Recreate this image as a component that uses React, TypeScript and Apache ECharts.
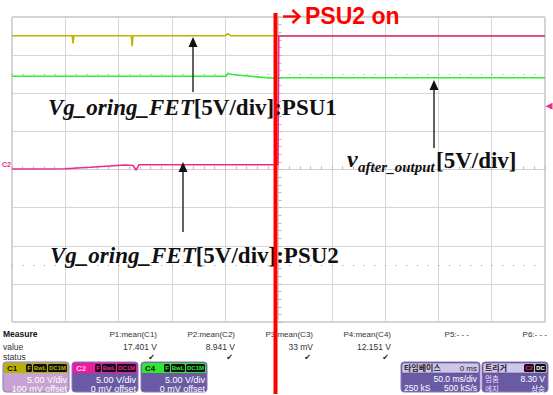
import React, { useEffect, useRef } from "react";
import * as echarts from "echarts";

const W = 553;
const H = 395;

// time axis (ms): 50 ms/div, 10 divisions
const timeMin = -250;
const timeMax = 250;
const timeStep = 50;
// vertical axis (V): 5 V/div, 8 divisions
const voltMin = -20;
const voltMax = 20;
const voltStep = 5;

// C1 (yellow) Vg_oring_FET PSU1
const c1Time = [-250, -193.5, -192.7, -192, -138, -137.3, -136.6, -50, -47.5, -45, 250];
const c1Volt = [17.55, 17.55, 16.55, 17.55, 17.55, 16.17, 17.55, 17.55, 17.8, 17.55, 17.55];

// C4 (green) v_after_output
const c4Time = [-250, -49, -47.5, -44, -5, 0, 250];
const c4Volt = [12.22, 12.22, 12.62, 12.45, 11.96, 12.04, 12.04];

// C2 (pink) Vg_oring_FET PSU2
const c2Time = [-250, -200, -176.7, -143.9, -136.4, -133.6, -130.8, -0.5, 0.3, 250];
const c2Volt = [0.07, 0.1, 0.29, 0.59, 0.52, -0.07, 0.63, 0.63, 17.51, 17.51];

const triggerLevel = 8.3;
const psu2OnTime = -2.8;
const dottedLevels = [12.5, -12.5];

const measureHeaders = ["P1:mean(C1)", "P2:mean(C2)", "P3:mean(C3)", "P4:mean(C4)", "P5:- - -", "P6:- - -"];
const measureValues = ["17.401 V", "8.941 V", "33 mV", "12.151 V", "", ""];
const measureStatus = [true, true, true, true, false, false];

const channelNames = ["C1", "C2", "C4"];
const channelHeaderColors = ["#b9b200", "#f0199b", "#2ee82e"];
const channelNameColors = ["#111", "#ffd0ea", "#111"];
const channelBodyColors = ["#c9a2d4", "#6a5aa4", "#6a5aa4"];
const channelScales = ["5.00 V/div", "5.00 V/div", "5.00 V/div"];
const channelOffsets = ["100 mV offset", "0 mV offset", "0 mV offset"];

const C1_COLOR = "#bcb400";
const C2_COLOR = "#ee2a8a";
const C4_COLOR = "#30ee30";

const SANS = '"Liberation Sans", Arial, "Noto Sans CJK KR", sans-serif';
const KR = '"Noto Sans CJK KR", "Liberation Sans", sans-serif';
const SERIF = '"Liberation Serif", "Times New Roman", serif';

function zip(a: number[], b: number[]) {
  return a.map((t, i) => [t, b[i]]);
}

function txt(x: number, y: number, text: string, font: string, fill: string, align = "left", z = 120): any {
  return {
    type: "text",
    x,
    y,
    z,
    silent: true,
    style: { text, font, fill, textAlign: align, textVerticalAlign: "middle" },
  };
}

function arrow(x: number, yTail: number, yTip: number): any[] {
  return [
    {
      type: "line",
      z: 110,
      silent: true,
      shape: { x1: x, y1: yTail, x2: x, y2: yTip + 8 },
      style: { stroke: "#3a3a3a", lineWidth: 1.6 },
    },
    {
      type: "polygon",
      z: 110,
      silent: true,
      shape: { points: [[x, yTip], [x - 4.5, yTip + 10], [x + 4.5, yTip + 10]] },
      style: { fill: "#111" },
    },
  ];
}

function badge(x: number, y: number, w: number, label: string, color: string): any[] {
  return [
    { type: "rect", z: 121, silent: true, shape: { x, y, width: w, height: 8, r: 1.5 }, style: { fill: "#111" } },
    txt(x + w / 2, y + 4.2, label, `bold 6px ${SANS}`, color, "center", 122),
  ];
}

function channelBox(i: number, x: number): any[] {
  const y = 362;
  const hc = channelHeaderColors[i];
  return [
    {
      type: "rect", z: 119, silent: true,
      shape: { x, y, width: 66, height: 30, r: 3 },
      style: { fill: channelBodyColors[i], stroke: "#8a78b8", lineWidth: 1 },
    },
    {
      type: "rect", z: 120, silent: true,
      shape: { x: x + 1, y: y + 1, width: 64, height: 10, r: [2, 2, 0, 0] },
      style: { fill: hc },
    },
    txt(x + 4, y + 6, channelNames[i], `bold 8px ${SANS}`, channelNameColors[i], "left", 122),
    ...badge(x + 23, y + 2, 6, "F", hc),
    ...badge(x + 30, y + 2, 14, "BwL", hc),
    ...badge(x + 45, y + 2, 19, "DC1M", hc),
    txt(x + 64, y + 17.5, channelScales[i], `9px ${SANS}`, "#ffffff", "right", 122),
    txt(x + 64, y + 26.5, channelOffsets[i], `9px ${SANS}`, "#ffffff", "right", 122),
  ];
}

export default function App() {
  const ref = useRef<HTMLDivElement>(null);

  useEffect(() => {
    const chart = echarts.init(ref.current!, undefined, { renderer: "svg", width: W, height: H });

    const axisGray = "#b8b8b8";
    chart.setOption({
      animation: false,
      backgroundColor: "#ffffff",
      grid: {
        left: 12, right: 8, top: 17, bottom: 73,
        show: true, borderColor: "#a4a4a4", borderWidth: 1, backgroundColor: "#ffffff",
      },
      xAxis: {
        type: "value",
        min: timeMin, max: timeMax, interval: timeStep,
        axisLine: { show: true, onZero: true, lineStyle: { color: "#d0d0d0", width: 1 } },
        axisTick: { show: true, inside: true, length: 3, lineStyle: { color: axisGray } },
        minorTick: { show: true, splitNumber: 5, length: 3, lineStyle: { color: axisGray } },
        axisLabel: { show: false },
        splitLine: { show: true, lineStyle: { color: "#d6d6d6", width: 1 } },
      },
      yAxis: {
        type: "value",
        min: voltMin, max: voltMax, interval: voltStep,
        axisLine: { show: true, onZero: true, lineStyle: { color: "#d0d0d0", width: 1 } },
        axisTick: { show: true, inside: true, length: 3, lineStyle: { color: axisGray } },
        minorTick: { show: true, splitNumber: 5, length: 3, lineStyle: { color: axisGray } },
        axisLabel: { show: false },
        splitLine: { show: true, lineStyle: { color: "#d6d6d6", width: 1 } },
      },
      series: [
        {
          name: "C1", type: "line", showSymbol: false, symbol: "none",
          data: zip(c1Time, c1Volt),
          lineStyle: { color: C1_COLOR, width: 1.6 }, itemStyle: { color: C1_COLOR },
          z: 3,
          markLine: {
            silent: true, symbol: ["none", "none"], label: { show: false },
            lineStyle: { type: [1, 9.66], color: "#9a9a9a", width: 1 },
            data: dottedLevels.map((v) => ({ yAxis: v })),
          },
        },
        {
          name: "C4", type: "line", showSymbol: false, symbol: "none",
          data: zip(c4Time, c4Volt),
          lineStyle: { color: C4_COLOR, width: 1.6 }, itemStyle: { color: C4_COLOR },
          z: 4,
        },
        {
          name: "C2", type: "line", showSymbol: false, symbol: "none",
          data: zip(c2Time, c2Volt),
          lineStyle: { color: C2_COLOR, width: 1.6 }, itemStyle: { color: C2_COLOR },
          z: 5,
          markPoint: {
            silent: true,
            symbol: "triangle", symbolSize: 7, symbolRotate: 90, symbolOffset: [4, 0],
            itemStyle: { color: C2_COLOR }, label: { show: false },
            data: [{ coord: [timeMax, triggerLevel] }],
          },
        },
      ],
    });

    const redX = chart.convertToPixel({ xAxisIndex: 0 }, psu2OnTime) as number;

    const serifRich = {
      i: { fontStyle: "italic", fontWeight: "bold", fontSize: 23, fontFamily: SERIF, fill: "#111" },
      n: { fontStyle: "normal", fontWeight: "bold", fontSize: 23, fontFamily: SERIF, fill: "#111" },
    };

    const colRight = (k: number) => 157 + k * 78;
    const measure: any[] = [
      txt(3, 334, "Measure", `bold 8.5px ${SANS}`, "#111"),
      txt(3, 346.5, "value", `8.5px ${SANS}`, "#333"),
      txt(3, 356.5, "status", `8.5px ${SANS}`, "#333"),
    ];
    measureHeaders.forEach((h, k) => {
      measure.push(txt(colRight(k), 334, h, `8px ${SANS}`, "#333", "right"));
      if (measureValues[k]) measure.push(txt(colRight(k), 346.5, measureValues[k], `8.5px ${SANS}`, "#333", "right"));
      if (measureStatus[k]) measure.push(txt(colRight(k) - 2, 357, "✔", `8px "DejaVu Sans", sans-serif`, "#222", "right"));
    });

    const boxes: any[] = [
      ...channelBox(0, 3),
      ...channelBox(1, 72),
      ...channelBox(2, 141),
      // timebase
      {
        type: "rect", z: 119, silent: true,
        shape: { x: 401, y: 362, width: 79, height: 30, r: 3 },
        style: { fill: "#6a5aa4", stroke: "#8a78b8", lineWidth: 1 },
      },
      {
        type: "rect", z: 120, silent: true,
        shape: { x: 402, y: 363, width: 77, height: 10, r: [2, 2, 0, 0] },
        style: { fill: "#cfc6ea", stroke: "#5a4a90", lineWidth: 0.6 },
      },
      txt(404, 367.8, "타임베이스", `bold 8px ${KR}`, "#222", "left", 122),
      txt(477, 368, "0 ms", `8px ${SANS}`, "#222", "right", 122),
      txt(477, 378.5, "50.0 ms/div", `8.5px ${SANS}`, "#ffffff", "right", 122),
      txt(404, 387.5, "250 kS", `8.5px ${SANS}`, "#ffffff", "left", 122),
      txt(477, 387.5, "500 kS/s", `8.5px ${SANS}`, "#ffffff", "right", 122),
      // trigger
      {
        type: "rect", z: 119, silent: true,
        shape: { x: 482, y: 362, width: 66, height: 30, r: 3 },
        style: { fill: "#6a5aa4", stroke: "#8a78b8", lineWidth: 1 },
      },
      {
        type: "rect", z: 120, silent: true,
        shape: { x: 483, y: 363, width: 64, height: 10, r: [2, 2, 0, 0] },
        style: { fill: "#cfc6ea", stroke: "#5a4a90", lineWidth: 0.6 },
      },
      txt(485, 367.8, "트리거", `bold 8px ${KR}`, "#222", "left", 122),
      ...badge(524, 364, 10, "C2", "#f0199b"),
      ...badge(535, 364, 11, "DC", "#ffffff"),
      txt(485, 378.5, "멈춤", `7.5px ${KR}`, "#f2d8ff", "left", 122),
      txt(545, 378.5, "8.30 V", `8.5px ${SANS}`, "#ffffff", "right", 122),
      txt(485, 388, "에지", `7.5px ${KR}`, "#f2d8ff", "left", 122),
      txt(545, 388, "상승", `7.5px ${KR}`, "#ffffff", "right", 122),
    ];

    const annotations: any[] = [
      // channel marker at left
      txt(2, 164, "C2", `bold 7px ${SANS}`, C2_COLOR, "left", 115),
      ...arrow(193, 92, 37),
      ...arrow(434, 148, 80),
      ...arrow(183, 232, 162),
      {
        type: "text", x: 48, y: 107.3, z: 112, silent: true,
        style: {
          text: "{i|Vg_oring_FET}{n|[5V/div]:PSU1}", rich: serifRich,
          textAlign: "left", textVerticalAlign: "middle",
        },
      },
      {
        type: "text", x: 50, y: 255.3, z: 112, silent: true,
        style: {
          text: "{i|Vg_oring_FET}{n|[5V/div]:PSU2}", rich: serifRich,
          textAlign: "left", textVerticalAlign: "middle",
        },
      },
      txt(347, 158.9, "v", `italic bold 24px ${SERIF}`, "#111", "left", 112),
      txt(358, 167, "after_output", `italic bold 15px ${SERIF}`, "#111", "left", 112),
      txt(436, 160.3, "[5V/div]", `bold 23px ${SERIF}`, "#111", "left", 112),
      // PSU2 on marker
      {
        type: "rect", z: 130, silent: true,
        shape: { x: redX - 2, y: 13, width: 4, height: 381 },
        style: { fill: "#ff0000" },
      },
      {
        type: "line", z: 130, silent: true,
        shape: { x1: 283, y1: 16.5, x2: 299, y2: 16.5 },
        style: { stroke: "#ff0000", lineWidth: 2.4 },
      },
      {
        type: "polyline", z: 130, silent: true,
        shape: { points: [[292.5, 10], [299.5, 16.5], [292.5, 23]] },
        style: { stroke: "#ff0000", lineWidth: 2.4, fill: "none" },
      },
      txt(305, 15.6, "PSU2 on", `bold 23px ${SANS}`, "#ff0000", "left", 130),
    ];

    chart.setOption({ graphic: { elements: [...measure, ...boxes, ...annotations] } });

    return () => chart.dispose();
  }, []);

  return (
    <div
      ref={ref}
      style={{ position: "absolute", left: 0, top: 0, width: W, height: H, background: "#fff" }}
    />
  );
}
